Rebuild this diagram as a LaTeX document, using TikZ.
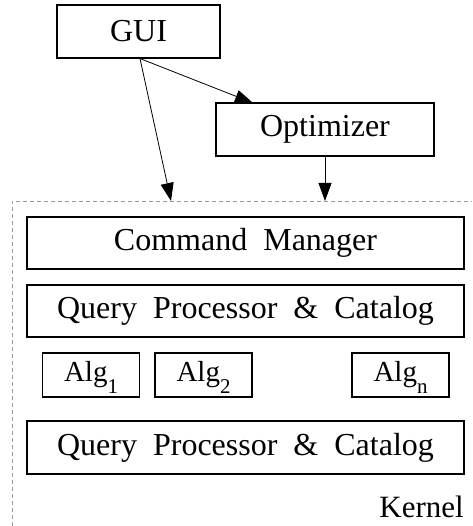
\documentclass[tikz,border=0pt]{standalone}
\usepackage{fontspec}
\setmainfont[WordSpace=2.0]{Liberation Serif}
\usetikzlibrary{arrows.meta}
% lowered index after an algorithm name
\newcommand{\algidx}[1]{\raisebox{-12pt}{\fontsize{21}{21}\selectfont #1}}
\begin{document}
\begin{tikzpicture}[x=1pt,y=1pt,
  box/.style={draw, line width=1.1pt, inner sep=0pt, align=center,
    font=\fontsize{32}{34}\selectfont},
  algbox/.style={box, minimum width=97pt, minimum height=44pt,
    text height=20pt, text depth=7pt, font=\fontsize{29}{32}\selectfont},
  wide/.style={box, minimum width=437pt, minimum height=52pt},
  link/.style={line width=0.8pt, -{Triangle[length=18pt,width=13pt]}},
  kernelline/.style={draw=gray!80, line width=0.9pt, dash pattern=on 4pt off 3pt}]
  \useasboundingbox (0,0) rectangle (472,-526);

  % kernel frame, open to the right and bottom
  \draw[kernelline] (12,-526) -- (12,-201) -- (472,-201);

  % front end
  \node[box, minimum width=163pt, minimum height=53pt] (gui) at (138.5,-31.5) {GUI};
  \node[box, minimum width=218pt, minimum height=53pt] (opt) at (325,-129.5) {Optimizer};

  % kernel layers
  \node[wide] (cmd) at (245.5,-243) {Command Manager};
  \node[wide] (qp1) at (245.5,-311) {Query Processor \& Catalog};
  \node[algbox] (alg1) at (91,-375) {Alg\algidx{1}};
  \node[algbox] (alg2) at (203.5,-375) {Alg\algidx{2}};
  \node[algbox] (algn) at (400.5,-375) {Alg\algidx{n}};
  \node[wide, minimum height=53pt] (qp2) at (245.5,-447.5) {Query Processor \& Catalog};
  \node[anchor=base east, inner sep=0pt, font=\fontsize{31}{33}\selectfont] (kern) at (464,-517) {Kernel};

  % entry points on the kernel frame
  \coordinate (guiin) at (171,-201);
  \coordinate (optin) at (325,-201);
  \coordinate (optentry) at (253,-103);

  \draw[link] ([xshift=1.5pt]gui.south) -- (guiin);
  \draw[link] ([xshift=1.5pt]gui.south) -- (optentry);
  \draw[link] (opt.south) -- (optin);
\end{tikzpicture}
\end{document}
